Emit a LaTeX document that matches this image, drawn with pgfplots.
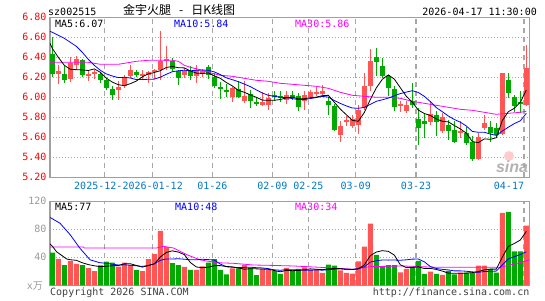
\documentclass[border=0pt]{standalone}
\usepackage{pgfplots}
\pgfplotsset{compat=1.18}
\usepackage{pgfplotstable}
\usepackage{fontspec}
\setmainfont{DejaVu Sans Mono}
\newfontfamily\cjk{Noto Sans CJK SC}
\newfontfamily\logofont{Liberation Sans}
\definecolor{kred}{HTML}{FF5555}
\definecolor{kgreen}{HTML}{00AA00}
\definecolor{mablue}{HTML}{0000FF}
\definecolor{mamag}{HTML}{FF00FF}
\definecolor{labred}{HTML}{FF0000}
\definecolor{labblue}{HTML}{0078C8}
\definecolor{framegray}{HTML}{A0A0A0}
\definecolor{gridgray}{HTML}{A8A8A8}
\definecolor{volgray}{HTML}{999999}

% i open high low close volume
\pgfplotstableread{
i o h l c v
1 6.23 6.32 6.13 6.26 37.7
3 6.18 6.40 6.15 6.34 34.8
4 6.32 6.41 6.27 6.38 30.5
6 6.22 6.27 6.16 6.23 24.7
7 6.24 6.27 6.18 6.25 20.4
11 6.07 6.16 5.97 6.10 26.6
12 6.11 6.22 6.09 6.20 32.3
13 6.21 6.32 6.19 6.27 29.0
15 6.21 6.27 6.17 6.23 20.4
16 6.22 6.26 6.14 6.25 37.4
17 6.25 6.28 6.18 6.27 44.5
18 6.27 6.66 6.17 6.36 77.8
19 6.36 6.51 6.27 6.38 54.5
22 6.22 6.29 6.19 6.26 26.2
24 6.21 6.32 6.14 6.27 21.9
25 6.23 6.28 6.20 6.26 27.1
30 6.00 6.10 5.95 6.09 24.3
32 5.96 6.16 5.94 6.01 29.0
35 5.92 6.05 5.91 5.95 23.3
36 5.92 6.04 5.87 5.99 21.9
39 5.97 6.06 5.93 6.02 25.0
42 5.96 6.06 5.87 6.02 25.7
43 6.00 6.07 5.99 6.05 22.4
44 6.04 6.10 6.01 6.05 22.4
45 6.03 6.12 6.01 6.06 17.6
48 5.62 5.76 5.55 5.71 21.4
49 5.76 5.81 5.71 5.77 17.6
50 5.71 5.82 5.69 5.78 16.7
51 5.72 5.92 5.63 5.87 34.3
52 5.89 6.24 5.87 6.11 55.4
53 6.11 6.48 6.06 6.36 88.0
58 5.92 5.96 5.85 5.93 18.4
59 5.86 5.96 5.84 5.92 23.5
63 5.75 5.96 5.72 5.83 19.5
65 5.66 5.84 5.64 5.80 14.8
68 5.64 5.76 5.59 5.66 18.1
71 5.38 5.64 5.37 5.60 28.1
72 5.69 5.82 5.67 5.74 28.1
75 5.63 6.24 5.62 6.24 103.5
79 5.92 6.52 5.91 6.29 85.2
}\redk

\pgfplotstableread{
i o h l c v
0 6.43 6.60 6.20 6.23 46.6
2 6.23 6.31 6.14 6.17 29.0
5 6.37 6.38 6.20 6.22 29.0
8 6.23 6.25 6.14 6.17 28.5
9 6.17 6.19 6.07 6.09 33.8
10 6.08 6.11 5.97 6.02 32.3
14 6.25 6.27 6.20 6.22 21.9
20 6.36 6.39 6.26 6.28 31.8
21 6.26 6.27 6.12 6.19 29.0
23 6.26 6.31 6.17 6.21 21.9
26 6.30 6.32 6.18 6.22 32.3
27 6.20 6.24 6.09 6.11 37.4
28 6.10 6.15 5.98 6.09 21.9
29 6.07 6.13 6.00 6.06 15.7
31 6.08 6.16 5.99 6.00 24.3
33 6.03 6.07 5.89 5.96 25.2
34 5.95 6.00 5.91 5.94 14.7
37 6.02 6.06 5.96 6.01 20.3
38 6.01 6.06 5.95 6.00 16.2
40 6.02 6.06 5.97 5.99 20.9
41 6.01 6.04 5.86 5.90 23.3
46 5.96 6.00 5.82 5.92 29.5
47 5.91 5.93 5.66 5.67 28.1
54 6.40 6.49 6.21 6.35 43.3
55 6.31 6.39 6.19 6.21 26.6
56 6.21 6.22 6.01 6.09 29.0
57 6.08 6.11 5.86 5.90 29.0
60 5.96 6.14 5.89 5.92 26.7
61 5.78 5.89 5.52 5.69 34.8
62 5.76 5.83 5.59 5.73 16.2
64 5.82 5.86 5.61 5.75 16.2
66 5.72 5.77 5.57 5.66 20.5
67 5.67 5.76 5.54 5.55 15.7
69 5.64 5.70 5.52 5.54 18.1
70 5.55 5.61 5.36 5.38 18.1
73 5.70 5.76 5.55 5.64 23.3
74 5.69 5.74 5.62 5.62 18.1
76 6.17 6.24 5.99 6.04 104.9
77 6.00 6.02 5.85 5.91 48.6
78 5.95 6.06 5.84 5.94 48.6
}\greenk

\pgfplotsset{
  sinaaxis/.style={
    width=479.5pt, scale only axis,
    xmin=-0.383, xmax=79.53,
    axis line style={draw=framegray, line width=1.5pt},
    major tick length=0pt, tick style={draw=none},
    xtick={8.67,16.73,26.67,36.67,42.67,50.57,60.62,78.62},
    xmajorgrids, ymajorgrids,
    x grid style={draw=gridgray, line width=1.2pt, dash pattern=on 5pt off 4pt},
    y grid style={draw=gridgray, line width=0.8pt, dash pattern=on 1pt off 2pt},
    tick label style={font=\fontsize{10}{12}\selectfont},
    /pgf/number format/assume math mode=true,
    clip=true,
  },
  wick/.style={only marks, mark=*, mark size=0pt, mark options={draw=none, fill=none}, forget plot,
    error bars/.cd, y dir=both, y explicit, error mark=none,
    error bar style={draw=#1, line width=1pt, solid}},
  body/.style={only marks, mark=*, mark size=0pt, mark options={draw=none, fill=none}, forget plot,
    error bars/.cd, y dir=both, y explicit, error mark=none,
    error bar style={draw=#1, line width=5pt, solid}},
}

\begin{document}
\begin{tikzpicture}[x=1pt,y=1pt]
\fontsize{10}{12}\selectfont
% ---------------- price panel ----------------
\begin{axis}[sinaaxis,
  at={(50pt,122.7pt)}, anchor=south west, height=160pt,
  ymin=5.2, ymax=6.8,
  ytick={5.20,5.40,5.60,5.80,6.00,6.20,6.40,6.60,6.80},
  yticklabel style={text=labred, /pgf/number format/.cd, fixed, fixed zerofill, precision=2},
  xticklabels={2025-12-\hphantom{29},2026-01-12,01-26,02-09,02-25,03-09,03-23,\llap{04-17}},
  xticklabel style={text=labblue, inner xsep=0pt, yshift=-1.5pt},
]
\addplot[wick=kred] table[x=i, y expr={(\thisrow{h}+\thisrow{l})/2}, y error expr={(\thisrow{h}-\thisrow{l})/2}] {\redk};
\addplot[wick=kgreen] table[x=i, y expr={(\thisrow{h}+\thisrow{l})/2}, y error expr={(\thisrow{h}-\thisrow{l})/2}] {\greenk};
\addplot[body=kred] table[x=i, y expr={(\thisrow{o}+\thisrow{c})/2}, y error expr={max(abs(\thisrow{o}-\thisrow{c})/2,0.004)}] {\redk};
\addplot[body=kgreen] table[x=i, y expr={(\thisrow{o}+\thisrow{c})/2}, y error expr={max(abs(\thisrow{o}-\thisrow{c})/2,0.004)}] {\greenk};
% MA30
\addplot[mamag, line width=0.8pt, mark=none] coordinates {
(-0.38,6.35) (3,6.35) (6,6.35) (8,6.33) (11,6.33) (12,6.34) (14,6.36) (16,6.37) (18,6.37) (20,6.37) (21,6.36) (22,6.32) (23,6.30) (25,6.27) (26,6.25) (28,6.22) (30,6.21) (32,6.19) (34,6.17) (36,6.16) (38,6.14) (40,6.13) (42,6.12) (44,6.11) (46,6.09) (48,6.05) (50,6.02) (52,6.01) (54,6.00) (56,6.00) (58,5.99) (60,5.96) (62,5.94) (64,5.92) (66,5.90) (68,5.88) (70,5.87) (72,5.85) (74,5.83) (76,5.84) (78,5.85) (79,5.86)};
% MA10
\addplot[mablue, line width=0.8pt, mark=none] coordinates {
(-0.38,6.66) (0,6.65) (1,6.62) (2,6.59) (3,6.55) (4,6.51) (5,6.45) (6,6.38) (7,6.32) (8,6.27)
(9,6.234) (10,6.213) (11,6.197) (12,6.200) (13,6.193) (14,6.177) (15,6.178) (16,6.180) (17,6.182) (18,6.201) (19,6.230)
(20,6.256) (21,6.265) (22,6.271) (23,6.265) (24,6.270) (25,6.273) (26,6.270) (27,6.254) (28,6.227) (29,6.195)
(30,6.176) (31,6.157) (32,6.132) (33,6.107) (34,6.074) (35,6.043) (36,6.020) (37,6.010) (38,6.001) (39,5.997)
(40,5.987) (41,5.977) (42,5.978) (43,5.987) (44,5.998) (45,6.009) (46,6.002) (47,5.968) (48,5.939) (49,5.914)
(50,5.893) (51,5.890) (52,5.899) (53,5.930) (54,5.960) (55,5.975) (56,5.992) (57,6.015) (58,6.037) (59,6.052)
(60,6.066) (61,6.048) (62,6.010) (63,5.957) (64,5.897) (65,5.856) (66,5.813) (67,5.778) (68,5.751) (69,5.713)
(70,5.659) (71,5.650) (72,5.651) (73,5.632) (74,5.619) (75,5.663) (76,5.701) (77,5.737) (78,5.765) (79,5.840)};
% MA5
\addplot[black, line width=0.8pt, mark=none] coordinates {
(-0.38,6.54) (0,6.49) (1,6.40) (2,6.32) (3,6.28)
(4,6.276) (5,6.274) (6,6.268) (7,6.284) (8,6.250) (9,6.192) (10,6.152) (11,6.126) (12,6.116) (13,6.136) (14,6.162)
(15,6.204) (16,6.234) (17,6.248) (18,6.266) (19,6.298) (20,6.308) (21,6.296) (22,6.294) (23,6.264) (24,6.242)
(25,6.238) (26,6.244) (27,6.214) (28,6.190) (29,6.148) (30,6.114) (31,6.070) (32,6.050) (33,6.024) (34,6.000)
(35,5.972) (36,5.970) (37,5.970) (38,5.978) (39,5.994) (40,6.002) (41,5.984) (42,5.986) (43,5.996) (44,6.002)
(45,6.016) (46,6.020) (47,5.950) (48,5.882) (49,5.826) (50,5.770) (51,5.760) (52,5.848) (53,5.978) (54,6.094)
(55,6.180) (56,6.224) (57,6.182) (58,6.096) (59,6.010) (60,5.952) (61,5.872) (62,5.838) (63,5.818) (64,5.784)
(65,5.760) (66,5.754) (67,5.718) (68,5.684) (69,5.642) (70,5.558) (71,5.546) (72,5.584) (73,5.580) (74,5.596)
(75,5.768) (76,5.856) (77,5.890) (78,5.950) (79,6.072)};
\end{axis}
% ---------------- volume panel ----------------
\begin{axis}[sinaaxis,
  at={(50pt,14.7pt)}, anchor=south west, height=84pt,
  ymin=0, ymax=120, ytick={40,80,120},
  yticklabel style={text=volgray},
  xticklabels={},
]
\addplot[ybar, bar width=5pt, bar shift=0pt, fill=kred, draw=none, forget plot] table[x=i, y=v] {\redk};
\addplot[ybar, bar width=5pt, bar shift=0pt, fill=kgreen, draw=none, forget plot] table[x=i, y=v] {\greenk};
% vol MA30
\addplot[mamag, line width=0.8pt, mark=none] coordinates {
(-0.38,54.8) (5.2,54.8) (5.3,53.3) (17.4,53.3) (18.5,55.7) (20.2,53.3) (22.4,43.8) (24.6,36.4) (27.4,32.3) (30.2,31.4) (33.5,29) (36.3,28.5) (40.2,27.6) (44.6,25.7) (50.2,22.9) (52.9,26.6) (58.5,27.6) (64.1,25.7) (69.6,25.7) (74.6,25.7) (76.3,29) (77.9,32.3) (79.5,36.2)};
% vol MA10
\addplot[mablue, line width=0.8pt, mark=none] coordinates {
(-0.38,97) (1.3,88.6) (3,72) (4.6,53) (6.3,36.4) (7.9,32.3)
(9,31.5) (10,30.1) (11,29.0) (12,29.3) (13,28.7) (14,27.9) (15,27.0) (16,28.3) (17,30.7) (18,35.6) (19,37.7)
(20,37.6) (21,37.9) (22,37.3) (23,36.5) (24,36.5) (25,37.2) (26,36.7) (27,36.0) (28,30.4) (29,26.5)
(30,25.8) (31,25.3) (32,25.6) (33,25.9) (34,25.2) (35,24.8) (36,23.8) (37,22.1) (38,21.5) (39,22.4)
(40,22.1) (41,22.0) (42,21.7) (43,21.4) (44,22.1) (45,21.6) (46,22.3) (47,23.1) (48,23.6) (49,22.9)
(50,22.5) (51,23.6) (52,26.5) (53,33.1) (54,35.2) (55,36.1) (56,36.0) (57,36.1) (58,35.8) (59,36.4)
(60,37.4) (61,37.5) (62,33.6) (63,26.7) (64,24.0) (65,22.8) (66,22.0) (67,20.6) (68,20.6) (69,20.1)
(70,19.2) (71,18.5) (72,19.7) (73,20.1) (74,20.3) (75,29.2) (76,37.6) (77,40.9) (78,43.9) (79,48.0)};
% vol MA5
\addplot[black, line width=0.8pt, mark=none] coordinates {
(-0.38,59) (0,56) (0.7,48) (2.4,37.6) (3,36.5)
(4,35.7) (5,32.2) (6,29.6) (7,27.9) (8,26.6) (9,27.3) (10,27.9) (11,28.3) (12,30.7) (13,30.8) (14,28.4)
(15,26.0) (16,28.2) (17,30.6) (18,40.4) (19,46.9) (20,49.2) (21,47.5) (22,43.9) (23,32.7) (24,26.2)
(25,25.2) (26,25.9) (27,28.1) (28,28.1) (29,26.9) (30,26.3) (31,24.7) (32,23.0) (33,23.7) (34,23.5)
(35,23.3) (36,22.8) (37,21.1) (38,19.3) (39,21.3) (40,20.9) (41,21.1) (42,22.2) (43,23.5) (44,22.9)
(45,22.3) (46,23.5) (47,24.0) (48,23.8) (49,22.8) (50,22.7) (51,23.6) (52,29.1) (53,42.4) (54,47.5)
(55,49.5) (56,48.5) (57,43.2) (58,29.3) (59,25.3) (60,25.3) (61,26.5) (62,23.9) (63,24.1) (64,22.7)
(65,20.3) (66,17.4) (67,17.3) (68,17.1) (69,17.4) (70,18.1) (71,19.6) (72,22.1) (73,23.1) (74,23.1)
(75,40.2) (76,55.6) (77,59.7) (78,64.7) (79,77.0)};
\end{axis}
% ---------------- texts ----------------
\node[anchor=base west, inner sep=0pt] at (48,284.5) {sz002515};
\node[anchor=base west, inner sep=0pt] at (123,285) {\cjk\fontsize{12}{12}\selectfont 金宇火腿\hspace{8pt}-\hspace{8pt}日K线图};
\node[anchor=base east, inner sep=0pt] at (537,284.5) {2026-04-17 11:30:00};
\node[anchor=base west, inner sep=0pt] at (55,272.7) {MA5:6.07};
\node[anchor=base west, inner sep=0pt, text=mablue] at (174,272.7) {MA10:5.84};
\node[anchor=base west, inner sep=0pt, text=mamag] at (295,272.7) {MA30:5.86};
\node[anchor=base west, inner sep=0pt] at (55,90) {MA5:77};
\node[anchor=base west, inner sep=0pt, text=mablue] at (175,90) {MA10:48};
\node[anchor=base west, inner sep=0pt, text=mamag] at (295,90) {MA30:34};
\node[anchor=east, inner sep=0pt, text=volgray] at (43,14) {x{\cjk 万}};
\node[anchor=base west, inner sep=0pt, text=black!75] at (50,4.3) {Copyright 2026 SINA.COM};
\node[anchor=base east, inner sep=0pt, text=black!75] at (529.5,4.3) {http://finance.sina.com.cn};
\fill[kred!30] (509,144) circle (5);
\node[text=black!30, inner sep=0pt] at (512,133) {\logofont\bfseries\itshape\fontsize{16}{16}\selectfont sina};
\pgfresetboundingbox
\useasboundingbox (0,0) rectangle (545,300);
\end{tikzpicture}
\end{document}
